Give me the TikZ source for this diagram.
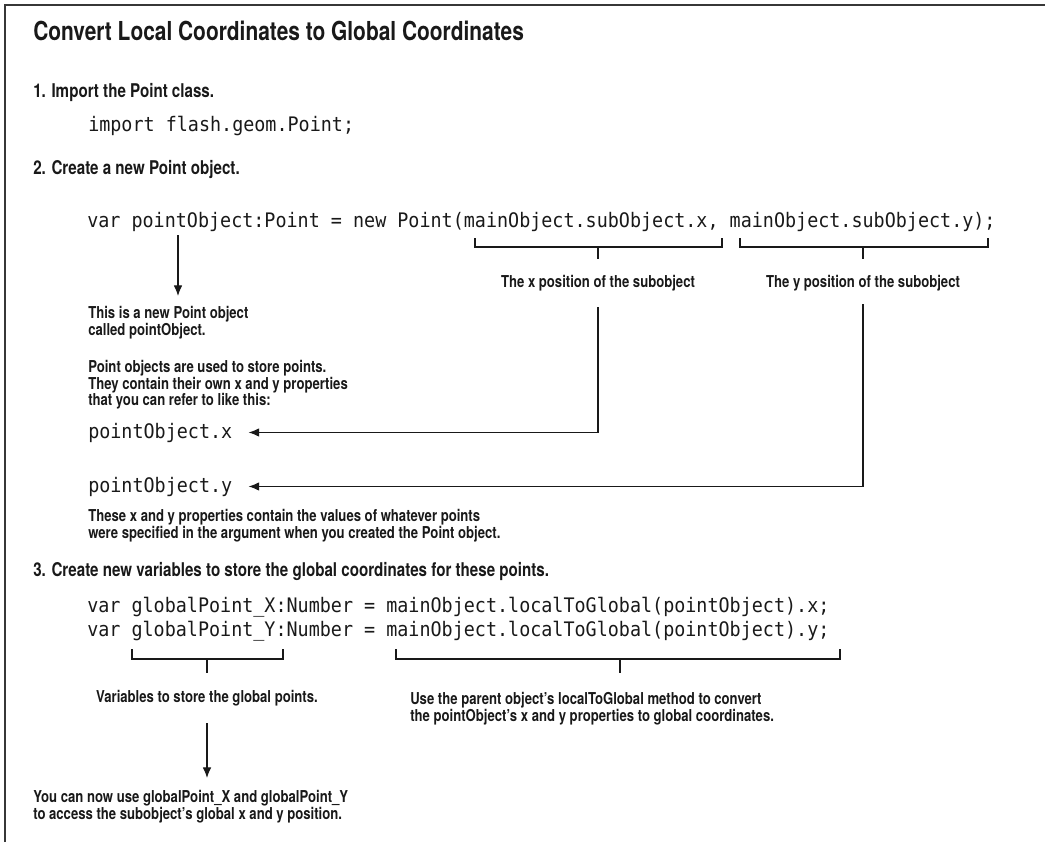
\documentclass[tikz,border=0pt]{standalone}
\usepackage{fontspec}
\usepackage{tikz}
\usetikzlibrary{arrows.meta,positioning}
\newfontfamily\headfont{TeX Gyre Heros}[FakeStretch=0.8]
\newfontfamily\codefont{DejaVu Sans Mono}[FakeStretch=0.92]
\definecolor{ink}{RGB}{25,25,25}
\definecolor{rule}{RGB}{55,55,55}
\tikzset{
  heading/.style={anchor=base west,inner sep=0pt,text=ink,font=\headfont\bfseries\fontsize{19.6}{22}\selectfont},
  stephead/.style={anchor=base west,inner sep=0pt,text=ink,font=\headfont\bfseries\fontsize{14.2}{16}\selectfont},
  code/.style={anchor=base west,inner sep=0pt,text=ink,font=\codefont\fontsize{15}{18}\selectfont},
  note/.style={anchor=north west,inner sep=0pt,align=left,text=ink,font=\headfont\bfseries\fontsize{12.3}{12.4}\selectfont},
  tag/.style={anchor=base,inner sep=0pt,text=ink,font=\headfont\bfseries\fontsize{12.3}{12.4}\selectfont},
  brk/.style={draw=ink,line width=0.9pt},
  arr/.style={-{Latex[length=8pt,width=6.5pt]},draw=ink,line width=0.9pt},
  frame/.style={draw=rule,line width=2pt}
}

\begin{document}
\begin{tikzpicture}[x=0.75pt,y=-0.75pt]
  \useasboundingbox (0,0) rectangle (1045,842);
  \draw[frame] (5,842) -- (5,5) -- (1045,5);

  \node[heading] (head) at (33,41) {Convert Local Coordinates to Global Coordinates};

  % step 1
  \node[stephead] (s1) at (33,98) {1. Import the Point class.};
  \node[code] (imp) at (88,131) {import flash.geom.Point;};

  % step 2
  \node[stephead] (s2) at (33,174) {2. Create a new Point object.};
  \node[code] (decl) at (87,227) {var pointObject:Point = new Point(mainObject.subObject.x, mainObject.subObject.y);};
  \draw[brk] (475,238) |- (722,247) -- (722,238);
  \draw[brk] (598,247) -- (598,259);
  \draw[brk] (740,238) |- (988,247) -- (988,238);
  \draw[brk] (863,247) -- (863,259);
  \node[tag] (xpos) at (598,287) {The x position of the subobject};
  \node[tag] (ypos) at (863,287) {The y position of the subobject};

  \coordinate (pobj) at (178,235);
  \node[note] (newpt) at (88,306) {This is a new Point object\\called pointObject.};
  \draw[arr,shorten >=7.5pt] (pobj) -- (pobj |- newpt.north);
  \node[note] (store) at (88,360) {Point objects are used to store points.\\They contain their own x and y properties\\that you can refer to like this:};

  \node[code] (px) at (88,438) {pointObject.x};
  \node[code] (py) at (88,492) {pointObject.y};
  \draw[arr] ([yshift=-15pt]xpos.base) |- ([xshift=12pt]px.east);
  \draw[arr] ([yshift=-13pt]ypos.base) |- ([xshift=12pt]py.east);
  \node[note] (values) at (88,509) {These x and y properties contain the values of whatever points\\were specified in the argument when you created the Point object.};

  % step 3
  \node[stephead] (s3) at (33,576) {3. Create new variables to store the global coordinates for these points.};
  \node[code] (gx) at (87,612) {var globalPoint\_X:Number = mainObject.localToGlobal(pointObject).x;};
  \node[code] (gy) at (87,636) {var globalPoint\_Y:Number = mainObject.localToGlobal(pointObject).y;};
  \draw[brk] (132,649) |- (283,659) -- (283,649);
  \draw[brk] (207,659) -- (207,673);
  \draw[brk] (396,649) |- (840,659) -- (840,649);
  \draw[brk] (620,659) -- (620,673);
  \node[tag] (vars) at (207,702) {Variables to store the global points.};
  \node[note] (useparent) at (410,692) {Use the parent object’s localToGlobal method to convert\\the pointObject’s x and y properties to global coordinates.};

  \node[note] (usenow) at (33,790) {You can now use globalPoint\_X and globalPoint\_Y\\to access the subobject’s global x and y position.};
  \draw[arr,shorten >=9pt] ([yshift=-16pt]vars.base) -- (vars.base |- usenow.north);
\end{tikzpicture}
\end{document}
